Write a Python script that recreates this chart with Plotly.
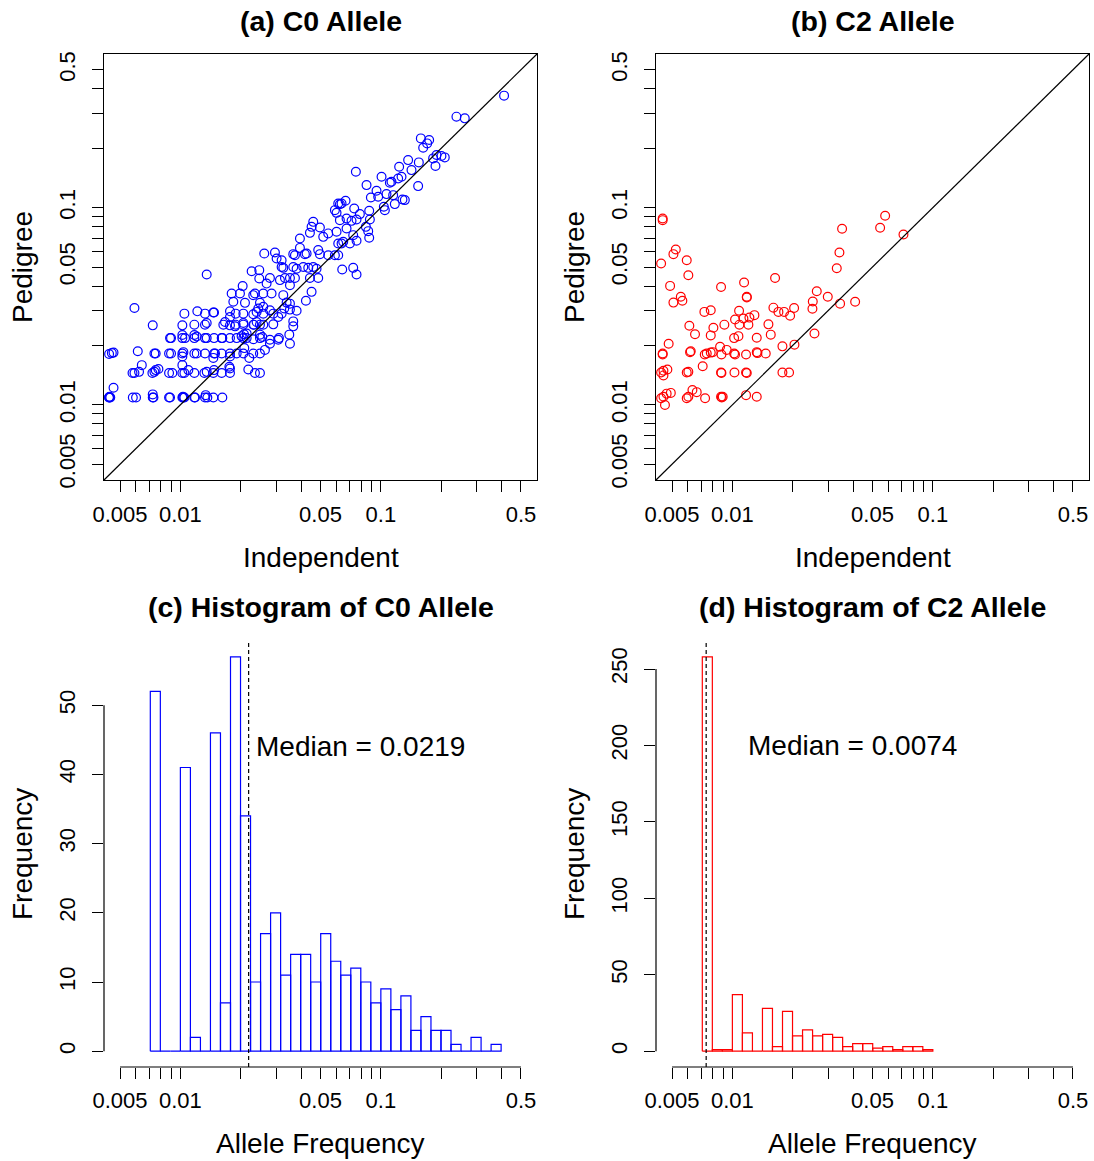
import numpy as np
import plotly.graph_objects as go

FONT = "Liberation Sans, Arial, Helvetica, sans-serif"
W, H = 1094, 1161

# ---- shared frequency axis (log scale) ----
freq_limits = [0.005, 0.5]
freq_ticks = [0.005, 0.006, 0.007, 0.008, 0.009, 0.01, 0.02, 0.03, 0.04, 0.05,
              0.06, 0.07, 0.08, 0.09, 0.1, 0.2, 0.3, 0.4, 0.5]
freq_tick_labels = ["0.005", "", "", "", "", "0.01", "", "", "", "0.05",
                    "", "", "", "", "0.1", "", "", "", "0.5"]

# ---- (a) C0 allele: (independent, pedigree) estimates ----
c0_pairs = [
    (0.00441, 0.0109), (0.00441, 0.0109), (0.00443, 0.0110), (0.00447, 0.0109), (0.00464, 0.0122),
    (0.00579, 0.0109), (0.00601, 0.0109), (0.00728, 0.0109), (0.00734, 0.0109), (0.00728, 0.0113),
    (0.00878, 0.0109), (0.00888, 0.0109), (0.01023, 0.0109), (0.01030, 0.0110), (0.01035, 0.0109),
    (0.01047, 0.0109), (0.01174, 0.0109), (0.01183, 0.0109), (0.01327, 0.0109), (0.01337, 0.0112),
    (0.01363, 0.0109), (0.0146, 0.0109), (0.01619, 0.0109),
    (0.00577, 0.0145), (0.0059, 0.0145), (0.00622, 0.0147), (0.00725, 0.0145), (0.00742, 0.0147),
    (0.00753, 0.0150), (0.00777, 0.0152), (0.00878, 0.0145), (0.00912, 0.0145), (0.01023, 0.0145),
    (0.01047, 0.0145), (0.01096, 0.0150), (0.01174, 0.0145), (0.01317, 0.0145), (0.01353, 0.0147),
    (0.0146, 0.0145), (0.01472, 0.0150), (0.01607, 0.0145), (0.01768, 0.0145), (0.01768, 0.0153),
    (0.01755, 0.0156), (0.02182, 0.0151), (0.02355, 0.0145), (0.02494, 0.0145), (0.00642, 0.0159),
    (0.01023, 0.0159),
    (0.00441, 0.0181), (0.00455, 0.0183), (0.00464, 0.0184), (0.00613, 0.0187), (0.00742, 0.0182),
    (0.00753, 0.0182), (0.00878, 0.0182), (0.00898, 0.0182), (0.01023, 0.0182), (0.01035, 0.0185),
    (0.01023, 0.0176), (0.01174, 0.0182), (0.01206, 0.0182), (0.01327, 0.0182), (0.01472, 0.0182),
    (0.01489, 0.0182), (0.01607, 0.0182), (0.01768, 0.0182), (0.01909, 0.0182), (0.02061, 0.0182),
    (0.0231, 0.0182), (0.02494, 0.0182), (0.01768, 0.0176), (0.0146, 0.0173), (0.02207, 0.0173),
    (0.02084, 0.0194), (0.02641, 0.0190),
    (0.00888, 0.0218), (0.00898, 0.0218), (0.01023, 0.0218), (0.01055, 0.0218), (0.01174, 0.0218),
    (0.01206, 0.0222), (0.01327, 0.0218), (0.01353, 0.0218), (0.01472, 0.0218), (0.01607, 0.0218),
    (0.01619, 0.0218), (0.01768, 0.0218), (0.01909, 0.0218), (0.02061, 0.0218), (0.02141, 0.0218),
    (0.0231, 0.0215), (0.02494, 0.0218), (0.02797, 0.0214), (0.03078, 0.0214), (0.03102, 0.0218),
    (0.0202, 0.0223), (0.02077, 0.0228), (0.02141, 0.0230), (0.02494, 0.0227), (0.02562, 0.0221),
    (0.02797, 0.0204), (0.03494, 0.0227), (0.0352, 0.0204), (0.01023, 0.0226), (0.01174, 0.0226),
    (0.00728, 0.0253), (0.01023, 0.0253), (0.01174, 0.0255), (0.01327, 0.0255), (0.01353, 0.0260),
    (0.01638, 0.0255), (0.01768, 0.0253), (0.01887, 0.0255), (0.02061, 0.0255), (0.0231, 0.0255),
    (0.02494, 0.0255), (0.02907, 0.0256), (0.03657, 0.0250), (0.0167, 0.0263), (0.01873, 0.0250),
    (0.02061, 0.0260), (0.02328, 0.0255), (0.024, 0.0263), (0.02591, 0.0255), (0.03078, 0.0279),
    (0.03657, 0.0265),
    (0.0059, 0.0310), (0.01047, 0.0290), (0.01215, 0.0298), (0.01327, 0.0290), (0.0146, 0.0294),
    (0.01472, 0.0294), (0.01768, 0.0298), (0.01887, 0.0290), (0.02061, 0.0290), (0.0231, 0.0288),
    (0.024, 0.0296), (0.02591, 0.0290), (0.02907, 0.0290), (0.03199, 0.0290), (0.038, 0.0300),
    (0.01768, 0.0279), (0.02447, 0.0308), (0.02591, 0.0314), (0.02797, 0.0302), (0.03298, 0.0308),
    (0.0352, 0.0304),
    (0.01837, 0.0333), (0.021, 0.0329), (0.02494, 0.0329), (0.03388, 0.0330), (0.0352, 0.0326),
    (0.04229, 0.0337),
    (0.01802, 0.0367), (0.01983, 0.0367), (0.0231, 0.0360), (0.02355, 0.0367), (0.02591, 0.0367),
    (0.02851, 0.0367), (0.03261, 0.0360), (0.04513, 0.0374),
    (0.02045, 0.0400), (0.02692, 0.0412), (0.0352, 0.0404),
    (0.02267, 0.0476), (0.02475, 0.0482), (0.02475, 0.0437), (0.02797, 0.0440), (0.03138, 0.0429),
    (0.03324, 0.0440), (0.0352, 0.0440), (0.03728, 0.0440), (0.04428, 0.0440), (0.04871, 0.0440),
    (0.01353, 0.0458), (0.03199, 0.0500), (0.03261, 0.0495), (0.03657, 0.0500), (0.038, 0.0490),
    (0.04102, 0.0500), (0.04344, 0.0495), (0.046, 0.0500), (0.04779, 0.0490),
    (0.02621, 0.0585), (0.02963, 0.0592), (0.0302, 0.0552), (0.03199, 0.0541), (0.03657, 0.0581),
    (0.03728, 0.0574), (0.03948, 0.0625), (0.04181, 0.0581), (0.04262, 0.0585), (0.04871, 0.0609),
    (0.04966, 0.0581), (0.05464, 0.0574), (0.05899, 0.0574), (0.06129, 0.0574), (0.06417, 0.0486),
    (0.0728, 0.0495), (0.07564, 0.0458),
    (0.03948, 0.0697), (0.04428, 0.0745), (0.04513, 0.0799), (0.046, 0.0847), (0.04966, 0.0793),
    (0.05159, 0.0711), (0.05464, 0.0740), (0.06013, 0.0754), (0.06129, 0.0658), (0.06368, 0.0658),
    (0.06491, 0.0671), (0.06745, 0.0784), (0.07007, 0.0658), (0.0728, 0.0725), (0.07564, 0.0679),
    (0.05899, 0.0971), (0.06013, 0.0941), (0.06129, 0.1050), (0.06247, 0.1040), (0.06368, 0.1050),
    (0.06667, 0.1083), (0.06247, 0.0864), (0.06745, 0.0881), (0.07142, 0.0857), (0.07364, 0.0990),
    (0.07564, 0.0871), (0.07859, 0.0927), (0.0842, 0.0799), (0.08649, 0.0760), (0.08749, 0.0703),
    (0.08816, 0.0871), (0.08749, 0.0964),
    (0.08485, 0.1301), (0.08918, 0.1126), (0.09515, 0.1218), (0.09698, 0.1135), (0.1008, 0.1434),
    (0.1035, 0.1010), (0.1047, 0.0971), (0.1067, 0.1171), (0.1109, 0.1337), (0.113, 0.1353),
    (0.1152, 0.1157), (0.1174, 0.1042), (0.122, 0.1406), (0.1234, 0.1612), (0.1268, 0.1434),
    (0.1282, 0.1100), (0.1317, 0.1092), (0.1368, 0.1742), (0.1422, 0.1550), (0.1535, 0.1286),
    (0.1547, 0.1696), (0.07506, 0.1520),
    (0.1583, 0.2244), (0.1626, 0.2013), (0.1702, 0.2117), (0.1742, 0.2201), (0.1823, 0.1777),
    (0.1895, 0.1848), (0.1873, 0.1625), (0.2006, 0.1826), (0.2084, 0.1798), (0.2383, 0.2892),
    (0.2622, 0.2836), (0.4118, 0.3697),
]

# ---- (b) C2 allele: (independent, pedigree) estimates ----
c2_pairs = [
    (0.00449, 0.0881), (0.00449, 0.0864), (0.00441, 0.0521), (0.00522, 0.0613), (0.00508, 0.0581),
    (0.00592, 0.0541), (0.00603, 0.0454), (0.00489, 0.0401), (0.00553, 0.0353), (0.00508, 0.0330),
    (0.00563, 0.0337), (0.00878, 0.0396), (0.01144, 0.0417), (0.0118, 0.0353), (0.0118, 0.0350),
    (0.01633, 0.0440), (0.02636, 0.0377), (0.02991, 0.0353), (0.02518, 0.0334), (0.02508, 0.0307),
    (0.03446, 0.0326), (0.04096, 0.0333), (0.03317, 0.0493), (0.0342, 0.0592), (0.03526, 0.0781),
    (0.05458, 0.0790), (0.05781, 0.0909), (0.07136, 0.0731),
    (0.00725, 0.0296), (0.0078, 0.0302), (0.0108, 0.0300), (0.01031, 0.0271), (0.01084, 0.0255),
    (0.01135, 0.0274), (0.01202, 0.0255), (0.01216, 0.0277), (0.01288, 0.0285), (0.00912, 0.0255),
    (0.00804, 0.0246), (0.0061, 0.0252), (0.00651, 0.0228), (0.0078, 0.0225), (0.0102, 0.0218),
    (0.01072, 0.0223), (0.01323, 0.0219), (0.01513, 0.0256), (0.01554, 0.0227), (0.01602, 0.0311),
    (0.01697, 0.0296), (0.01811, 0.0296), (0.01941, 0.0283), (0.02032, 0.0310),
    (0.00481, 0.0204), (0.00449, 0.0182), (0.00449, 0.0180), (0.00615, 0.0185), (0.0062, 0.0187),
    (0.00728, 0.0180), (0.00745, 0.0182), (0.0078, 0.0184), (0.00798, 0.0185), (0.00868, 0.0197),
    (0.00882, 0.0180), (0.00937, 0.0190), (0.0102, 0.0182), (0.01031, 0.0180), (0.0117, 0.0180),
    (0.01323, 0.0185), (0.01333, 0.0183), (0.01467, 0.0182), (0.01777, 0.0198), (0.0204, 0.0202),
    (0.02567, 0.0230),
    (0.00441, 0.0146), (0.00453, 0.0141), (0.00474, 0.0151), (0.00453, 0.0149), (0.00592, 0.0146),
    (0.00603, 0.0147), (0.00711, 0.0157), (0.00878, 0.0146), (0.00882, 0.0145), (0.01024, 0.0146),
    (0.0117, 0.0146), (0.0118, 0.0145), (0.01777, 0.0146), (0.01918, 0.0146),
    (0.00441, 0.0108), (0.00453, 0.0110), (0.0047, 0.0114), (0.00493, 0.0115), (0.00461, 0.00998),
    (0.00592, 0.0108), (0.00603, 0.0110), (0.00632, 0.0119), (0.00664, 0.0116), (0.00731, 0.0108),
    (0.00878, 0.0110), (0.00885, 0.0109), (0.00895, 0.0110), (0.0117, 0.0112), (0.01323, 0.0110),
]

c0_independent = [p[0] for p in c0_pairs]
c0_pedigree = [p[1] for p in c0_pairs]
c2_independent = [p[0] for p in c2_pairs]
c2_pedigree = [p[1] for p in c2_pairs]

# ---- (c)/(d) histograms on log10(frequency), equal-width bins ----
hist_log_start = -2.15
hist_log_width = 0.05
c0_counts = [52, 0, 0, 41, 2, 0, 46, 7, 57, 34, 10, 17, 20, 11, 14, 14, 10, 17,
             13, 11, 12, 10, 7, 9, 6, 8, 3, 5, 3, 3, 1, 0, 2, 0, 1]
c2_counts = [258, 1, 1, 37, 12, 0, 28, 3, 26, 10, 14, 10, 11, 9, 3, 5, 5, 2, 3, 1, 3, 3, 1]
c0_median = 0.0219
c2_median = 0.0074
c0_count_ticks = [0, 10, 20, 30, 40, 50]
c2_count_ticks = [0, 50, 100, 150, 200, 250]

BLUE = "#0000FF"
RED = "#FF0000"
LW = 1.2

# R-style 4% range expansion
log_lo, log_hi = np.log10(freq_limits[0]), np.log10(freq_limits[1])
pad = 0.04 * (log_hi - log_lo)
log_range = [log_lo - pad, log_hi + pad]


def count_range(counts):
    m = max(counts)
    return [-0.04 * m, 1.04 * m]


def outline(start, width, counts):
    xs, ys = [], []
    for i, n in enumerate(counts):
        lo = start + i * width
        hi = lo + width
        xs += [lo, lo, hi, hi, lo, None]
        ys += [0, n, n, 0, 0, None]
    return xs, ys


fig = go.Figure()

marker_style = dict(symbol="circle-open", size=8.8, line=dict(width=1.2))
fig.add_trace(go.Scatter(x=c0_independent, y=c0_pedigree, mode="markers",
                         marker=dict(color=BLUE, **marker_style), xaxis="x", yaxis="y",
                         showlegend=False))
fig.add_trace(go.Scatter(x=c2_independent, y=c2_pedigree, mode="markers",
                         marker=dict(color=RED, **marker_style), xaxis="x2", yaxis="y2",
                         showlegend=False))

hx, hy = outline(hist_log_start, hist_log_width, c0_counts)
fig.add_trace(go.Scatter(x=hx, y=hy, mode="lines", line=dict(color=BLUE, width=LW),
                         xaxis="x3", yaxis="y3", showlegend=False))
hx, hy = outline(hist_log_start, hist_log_width, c2_counts)
fig.add_trace(go.Scatter(x=hx, y=hy, mode="lines", line=dict(color=RED, width=LW),
                         xaxis="x4", yaxis="y4", showlegend=False))


def px_x(p):
    return p / W


def px_y(p):
    return 1 - p / H


left_dom = [px_x(104), px_x(537)]
right_dom = [px_x(656), px_x(1089)]
top_dom = [px_y(480), px_y(54)]
bot_dom = [px_y(1067), px_y(641)]

tick_font = dict(family=FONT, size=22, color="black")
common = dict(showgrid=False, zeroline=False, ticks="outside", ticklen=11,
              tickwidth=LW, tickcolor="black", tickfont=tick_font,
              linecolor="black", linewidth=LW, automargin=False)

scatter_x = dict(common, type="log", range=log_range, tickmode="array",
                 tickvals=freq_ticks, ticktext=freq_tick_labels,
                 showline=True, mirror=True, ticklabelstandoff=3)
scatter_y = dict(common, type="log", range=log_range, tickmode="array",
                 tickvals=freq_ticks, ticktext=freq_tick_labels, tickangle=-90,
                 showline=True, mirror=True, ticklabelstandoff=8)
hist_x = dict(common, type="linear", range=log_range, tickmode="array",
              tickvals=list(np.log10(freq_ticks)), ticktext=freq_tick_labels,
              showline=False, ticklabelstandoff=3)


def hist_y(counts, ticks):
    return dict(common, type="linear", range=count_range(counts), tickmode="array",
                tickvals=ticks, ticktext=[str(t) for t in ticks], tickangle=-90,
                showline=False, ticklabelstandoff=8)


fig.update_layout(
    width=W, height=H, margin=dict(l=0, r=0, t=0, b=0, autoexpand=False),
    paper_bgcolor="white", plot_bgcolor="white", showlegend=False,
    xaxis=dict(scatter_x, domain=left_dom, anchor="y"),
    yaxis=dict(scatter_y, domain=top_dom, anchor="x"),
    xaxis2=dict(scatter_x, domain=right_dom, anchor="y2"),
    yaxis2=dict(scatter_y, domain=top_dom, anchor="x2"),
    xaxis3=dict(hist_x, domain=left_dom, anchor="y3"),
    yaxis3=dict(hist_y(c0_counts, c0_count_ticks), domain=bot_dom, anchor="x3"),
    xaxis4=dict(hist_x, domain=right_dom, anchor="y4"),
    yaxis4=dict(hist_y(c2_counts, c2_count_ticks), domain=bot_dom, anchor="x4"),
)

shapes = []
# y = x reference lines
for xa, ya in (("x", "y"), ("x2", "y2")):
    shapes.append(dict(type="line", xref=f"{xa} domain", yref=f"{ya} domain",
                       x0=0, y0=0, x1=1, y1=1, line=dict(color="black", width=LW)))
# histogram axis lines spanning first to last tick, and median markers
for xa, ya, ticks, med in (("x3", "y3", c0_count_ticks, c0_median),
                           ("x4", "y4", c2_count_ticks, c2_median)):
    shapes.append(dict(type="line", xref=xa, yref=f"{ya} domain",
                       x0=np.log10(freq_ticks[0]), x1=np.log10(freq_ticks[-1]), y0=0, y1=0,
                       line=dict(color="black", width=LW)))
    shapes.append(dict(type="line", xref=f"{xa} domain", yref=ya,
                       x0=0, x1=0, y0=ticks[0], y1=ticks[-1],
                       line=dict(color="black", width=LW)))
    shapes.append(dict(type="line", xref=xa, yref=f"{ya} domain",
                       x0=np.log10(med), x1=np.log10(med), y0=0, y1=1,
                       line=dict(color="black", width=LW, dash="4px,3px")))
fig.update_layout(shapes=shapes)

ann = []


def text(x, y, s, size=28, bold=False, angle=0, xanchor="center"):
    ann.append(dict(x=x, y=y, xref="paper", yref="paper", showarrow=False,
                    text=f"<b>{s}</b>" if bold else s, textangle=angle,
                    xanchor=xanchor, yanchor="middle",
                    font=dict(family=FONT, size=size, color="black")))


text(px_x(320.5), px_y(21), "(a) C0 Allele", size=28.5, bold=True)
text(px_x(872.5), px_y(21), "(b) C2 Allele", size=28.5, bold=True)
text(px_x(320.5), px_y(607), "(c) Histogram of C0 Allele", size=28.5, bold=True)
text(px_x(872.5), px_y(607), "(d) Histogram of C2 Allele", size=28.5, bold=True)
text(px_x(320.5), px_y(557), "Independent")
text(px_x(872.5), px_y(557), "Independent")
text(px_x(320.5), px_y(1143), "Allele Frequency")
text(px_x(872.5), px_y(1143), "Allele Frequency")
text(px_x(22), px_y(267), "Pedigree", angle=-90)
text(px_x(574), px_y(267), "Pedigree", angle=-90)
text(px_x(22), px_y(854), "Frequency", angle=-90)
text(px_x(574), px_y(854), "Frequency", angle=-90)

# median labels placed in data coordinates
ann.append(dict(x=np.log10(0.0233), y=44, xref="x3", yref="y3", showarrow=False,
                text=f"Median = {c0_median:.4f}", xanchor="left", yanchor="middle",
                font=dict(family=FONT, size=28, color="black")))
ann.append(dict(x=np.log10(0.01165), y=200, xref="x4", yref="y4", showarrow=False,
                text=f"Median = {c2_median:.4f}", xanchor="left", yanchor="middle",
                font=dict(family=FONT, size=28, color="black")))
fig.update_layout(annotations=ann)

fig.write_html("out.html")
